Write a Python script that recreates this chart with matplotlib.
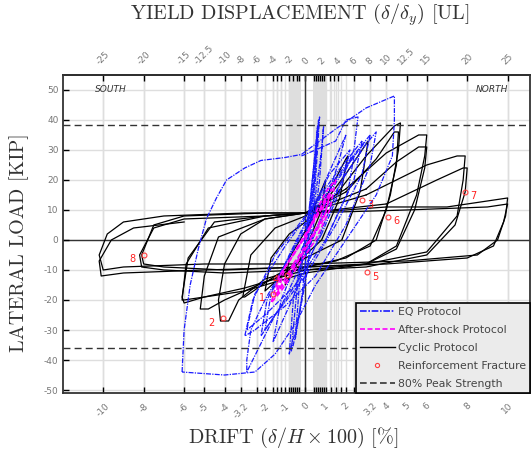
import numpy as np
import matplotlib
matplotlib.use('Agg')
from matplotlib import pyplot as plt
from matplotlib.lines import Line2D

plt.rcParams['mathtext.fontset'] = 'cm'

# ---- data (drift %, lateral load kip) ----
cyclic_loops = [
    [(0, 0), (0.5, 12), (1.0, 20), (0.8, 10), (0, -3), (-0.5, -9), (-1.0, -15), (-0.8, -6), (0, 3), (0.5, 10)],
    [(0, 3), (1, 14), (2, 27), (2.1, 28), (1.7, 14), (0.8, 0), (0, -5), (-1, -11), (-2, -17), (-1.7, -6), (-0.8, 2), (0, 6), (1, 13)],
    [(1, 13), (2, 22), (3, 32), (3.1, 33), (2.7, 16), (1.8, 0), (0, -6), (-1.5, -12), (-3, -19), (-3.1, -19), (-2.7, -5), (-1.5, 4), (0, 8), (1.5, 15)],
    [(1.5, 15), (3, 28), (4.4, 38), (4.7, 39), (4.6, 30), (4.2, 15), (3.5, 0), (2, -6), (0, -9), (-2, -13), (-3.3, -20), (-3.8, -27), (-4.2, -27), (-4.3, -20), (-4.0, -8), (-3.2, 2), (-2, 7), (0, 9), (2, 16)],
    [(2, 16), (3.5, 27), (4.4, 36), (4.6, 36), (4.5, 25), (4.0, 10), (3.2, -2), (1.5, -7), (0, -9), (-2, -14), (-4, -20), (-4.8, -23), (-5.2, -23), (-5.0, -12), (-4.3, 1), (-2, 7), (0, 9), (2, 17)],
    [(2, 17), (4, 29), (5.6, 35), (6.0, 35), (5.9, 28), (5.5, 15), (4.5, -2), (3, -8), (0, -10), (-3, -16), (-5, -19), (-6, -20), (-6.1, -20), (-5.9, -8), (-4.8, 4), (-2, 8), (0, 9), (3, 17)],
    [(3, 17), (4.5, 26), (5.6, 31), (6.0, 31), (5.9, 24), (5.4, 10), (4.5, -3), (3, -8), (0, -11), (-3, -17), (-5, -19), (-6, -21), (-6.1, -19), (-5.8, -6), (-4.5, 6), (-2, 8), (0, 9), (3, 15)],
    [(3, 15), (6, 25), (7.5, 28), (7.9, 28), (7.8, 20), (7.5, 8), (6, -4), (3, -8), (0, -9), (-4, -10), (-7, -9), (-8, -8), (-8.1, -5), (-7.5, 5), (-6, 8), (-2, 9), (0, 9), (4, 12)],
    [(4, 12), (6.5, 20), (7.8, 24), (8.0, 24), (7.9, 16), (7.4, 5), (6, -5), (3, -9), (0, -10), (-4, -11), (-7, -10), (-8.1, -9), (-8.2, -5), (-7.5, 4), (-6, 7), (-2, 8), (0, 9), (4, 11)],
    [(4, 11), (7, 11), (9, 13), (10, 14), (9.9, 8), (9.5, 0), (8.5, -5), (5, -7), (0, -8), (-5, -8), (-9, -9), (-10, -10), (-10.2, -5), (-9.8, 2), (-9, 6), (-7, 8), (-3, 9), (0, 9)],
    [(0, 9), (5, 10), (9, 11), (10, 12), (9.8, 6), (9.3, -2), (8, -6), (4, -8), (0, -9), (-5, -10), (-9, -11), (-10.1, -12), (-10.2, -7), (-9.6, 0), (-8.5, 4), (-6, 6)],
]

eq_loops = [
    [(0, 0), (0.3, 15), (0.6, 35), (0.7, 41), (0.5, 20), (0.1, -10), (-0.3, -25), (-0.6, -35), (-0.7, -37), (-0.4, -15), (0.2, 10), (0.6, 38), (0.5, 25)],
    [(0.5, 25), (0.2, 5), (-0.2, -20), (-0.5, -33), (-0.3, -15), (0.1, 5), (0.5, 30), (0.65, 40), (0.4, 15), (0, -5)],
    [(0, -5), (0.4, 10), (0.8, 30), (0.9, 38), (0.7, 20), (0.2, -5), (-0.4, -28), (-0.8, -38), (-0.6, -20), (0, 0), (0.5, 22)],
    [(0, -5), (1, 10), (2, 22), (3, 32), (3.5, 36), (3.2, 25), (2, 5), (0.5, -12), (-1, -22), (-2.5, -30), (-3, -32), (-2.6, -20), (-1.5, -5), (0, 8), (1.5, 22), (2.8, 33)],
    [(2.8, 33), (2.4, 20), (1, 0), (-0.5, -15), (-2, -25), (-2.9, -30), (-2.5, -18), (-1, -2), (0.5, 12), (2, 25), (3.2, 35)],
    [(3.2, 35), (2.8, 22), (1.5, 5), (0, -12), (-1.5, -25), (-2.9, -44), (-2.9, -40), (-2.7, -30), (-2.0, -20), (-1, -8), (0, 5), (1.5, 20), (3, 33)],
    [(-6.1, -44), (-6.0, -30), (-5.7, -15), (-5.3, -3), (-4.9, 7), (-4.4, 14), (-3.9, 20), (-3, 24), (-2.2, 26.5), (-1, 27.5), (-0.2, 28.5), (1.5, 37), (3.0, 44), (4.4, 48), (4.4, 40), (4.3, 28), (3.5, 15), (2, 0), (0.5, -15), (-0.5, -28), (-1.5, -38), (-2.5, -44), (-4, -45), (-6.1, -44)],
    [(-0.2, 28), (0.5, 30), (1.5, 33), (2.0, 40), (2.6, 41), (2.4, 30), (1.2, 10), (0, -10), (-1, -25), (-1.6, -34), (-1.2, -20), (0, 0), (1, 20), (2, 35)],
    [(2, 35), (1.6, 25), (0.8, 8), (-0.2, -8), (-1.2, -22), (-2.0, -30), (-1.7, -18), (-0.8, -5), (0.3, 10), (1.2, 22), (2.2, 30), (1.8, 18), (0.8, 2)],
    [(0.8, 2), (-0.5, -15), (-1.8, -28), (-2.2, -32), (-1.9, -20), (-1.0, -8), (0.2, 6), (1.4, 18), (2.4, 28), (2.1, 16), (1.0, 0)],
]

aftershock_loops = [
    [(0, 0), (0.5, 9), (1.0, 16), (1.5, 20), (1.2, 10), (0.5, 0), (-0.5, -10), (-1.2, -17), (-1.7, -21), (-1.3, -12), (-0.5, -4), (0.3, 5), (1.0, 14)],
    [(1.0, 14), (0.7, 6), (0, -3), (-0.8, -12), (-1.4, -18), (-1.0, -9), (0, 2), (0.8, 11), (1.3, 17), (1.0, 9), (0.2, 0), (-0.6, -8)],
    [(-0.6, -8), (-1.1, -14), (-1.5, -19), (-1.2, -11), (-0.3, -2), (0.5, 7), (1.2, 15), (0.9, 7), (0.1, -2), (-0.9, -12)],
]

fracture_drift = [-1.6, -4.1, 2.8, -0.9, 3.05, 4.1, 7.9, -8.0]
fracture_load = [-18, -26, 13.3, -11.7, -10.7, 7.7, 16, -5]
fracture_id = ['1', '2', '3', '4', '5', '6', '7', '8']

peak80_pos = 38.3
peak80_neg = -36.0

drift_ticks = [-10, -8, -6, -5, -4, -3.2, -2, -1, 0, 1, 2, 3.2, 4, 5, 6, 8, 10]
drift_minor = [-2.4, -1.6, -1.4, -1.2, -0.8, -0.7, -0.6, -0.5, -0.4, -0.3,
               0.4, 0.5, 0.6, 0.7, 0.8, 0.9, 1.25, 1.5, 1.75, 2.4]
yield_ticks = [-25, -20, -15, -12.5, -10, -8, -6, -4, -2, 0, 2, 4, 6, 8, 10, 12.5, 15, 20, 25]
yield_minor = [-3.5, -3, -1.5, -1, -0.75, 1, 1.25, 1.5, 1.75, 2.25, 3, 3.5]
drift_per_yield = 0.4
load_ticks = [-50, -40, -30, -20, -10, 0, 10, 20, 30, 40, 50]


def plot_loops(ax, loops, **kw):
    for loop in loops:
        d = [p[0] for p in loop]
        f = [p[1] for p in loop]
        ax.plot(d, f, **kw)


fig = plt.figure(figsize=(5.32, 4.57), dpi=100)
ax = fig.add_axes([0.118, 0.14, 0.878, 0.696])

ax.set_xlim(-12, 11.1)
ax.set_ylim(-51, 55)

gridc = '#dedede'
# dense grid bands near zero
ax.axvspan(-0.8, -0.2, color=gridc, lw=0, zorder=0)
ax.axvspan(0.35, 1.05, color=gridc, lw=0, zorder=0)
for v in drift_ticks + drift_minor + [t * drift_per_yield for t in yield_ticks + yield_minor]:
    ax.axvline(v, color=gridc, lw=1.0, zorder=0)
for v in load_ticks:
    ax.axhline(v, color=gridc, lw=1.0, zorder=0)

ax.axhline(0, color='#333333', lw=1.0, zorder=1)
ax.axvline(0, color='#333333', lw=1.0, zorder=1)

plot_loops(ax, cyclic_loops, color='black', lw=0.9, zorder=3)
plot_loops(ax, eq_loops, color='#1a1aff', lw=0.9, ls=(0, (4, 1, 1, 1)), zorder=4)
plot_loops(ax, aftershock_loops, color='#ff00ff', lw=1.2, ls=(0, (3, 1.5)), zorder=5)

ax.axhline(peak80_pos, color='#333333', lw=1.0, ls=(0, (5, 3)), zorder=6)
ax.axhline(peak80_neg, color='#333333', lw=1.0, ls=(0, (5, 3)), zorder=6)

ax.plot(fracture_drift, fracture_load, 'o', mfc='none', mec='#ff4040', ms=3.5, mew=0.8, zorder=7)
for d, f, s in zip(fracture_drift, fracture_load, fracture_id):
    dx = -0.55 if d < 0 else 0.4
    ax.text(d + dx, f - 1.5, s, color='#ff2020', fontsize=7, ha='center', va='center', zorder=7)

ax.text(-9.6, 50, 'SOUTH', fontsize=6.5, style='italic', color='#333333', ha='center', va='center')
ax.text(9.2, 50, 'NORTH', fontsize=6.5, style='italic', color='#333333', ha='center', va='center')

# ticks
ax.set_xticks(drift_ticks)
ax.set_xticks(drift_minor, minor=True)
ax.set_xticklabels([f'{t:g}' for t in drift_ticks], rotation=45, fontsize=6.5, color='#777777')
ax.set_yticks(load_ticks)
ax.set_yticklabels([f'{t}' for t in load_ticks], fontsize=6.5, color='#777777')
ax.tick_params(axis='both', which='both', direction='in', length=4, width=1, color='black', pad=3)
ax.tick_params(axis='x', which='major', pad=6)

top = ax.secondary_xaxis('top', functions=(lambda x: x / drift_per_yield, lambda y: y * drift_per_yield))
top.set_xticks(yield_ticks)
top.set_xticks(yield_minor, minor=True)
top.set_xticklabels([f'{t:g}' for t in yield_ticks], rotation=45, fontsize=6.5, color='#777777')
top.tick_params(axis='x', which='both', direction='in', length=4, width=1, color='black', pad=6)

for sp in ax.spines.values():
    sp.set_color('#333333')
    sp.set_linewidth(1.3)
top.spines['top'].set_linewidth(1.3)

lab = dict(ha='center', va='center', fontsize=14.5, family='cmr10', color='#333333')
fig.text(0.563, 0.967, r'YIELD DISPLACEMENT ($\delta/\delta_y$) [UL]', **lab)
fig.text(0.551, 0.041, r'DRIFT ($\delta/H \times 100$) [%]', **lab)
fig.text(0.036, 0.47, 'LATERAL LOAD [KIP]', rotation=90, **lab)

handles = [
    Line2D([], [], color='#1a1aff', lw=1.2, ls=(0, (4, 1, 1, 1))),
    Line2D([], [], color='#ff00ff', lw=1.2, ls=(0, (3, 1.5))),
    Line2D([], [], color='black', lw=1.0),
    Line2D([], [], color='#ff4040', marker='o', mfc='none', ls='none', ms=3, mew=0.8),
    Line2D([], [], color='#333333', lw=1.2, ls=(0, (4, 2))),
]
labels = ['EQ Protocol', 'After-shock Protocol', 'Cyclic Protocol', 'Reinforcement Fracture', '80% Peak Strength']
leg = ax.legend(handles, labels, loc='lower right', fontsize=7.8, frameon=True, fancybox=False,
                borderaxespad=0.0, handlelength=3.2, handletextpad=0.3, labelspacing=0.75, borderpad=0.35)
leg.get_frame().set_facecolor('#ebebeb')
leg.get_frame().set_edgecolor('black')
leg.get_frame().set_alpha(1.0)
leg.get_frame().set_linewidth(1.2)
leg.set_zorder(10)
for t in leg.get_texts():
    t.set_color('#444444')

plt.savefig('out.png', dpi=100)
